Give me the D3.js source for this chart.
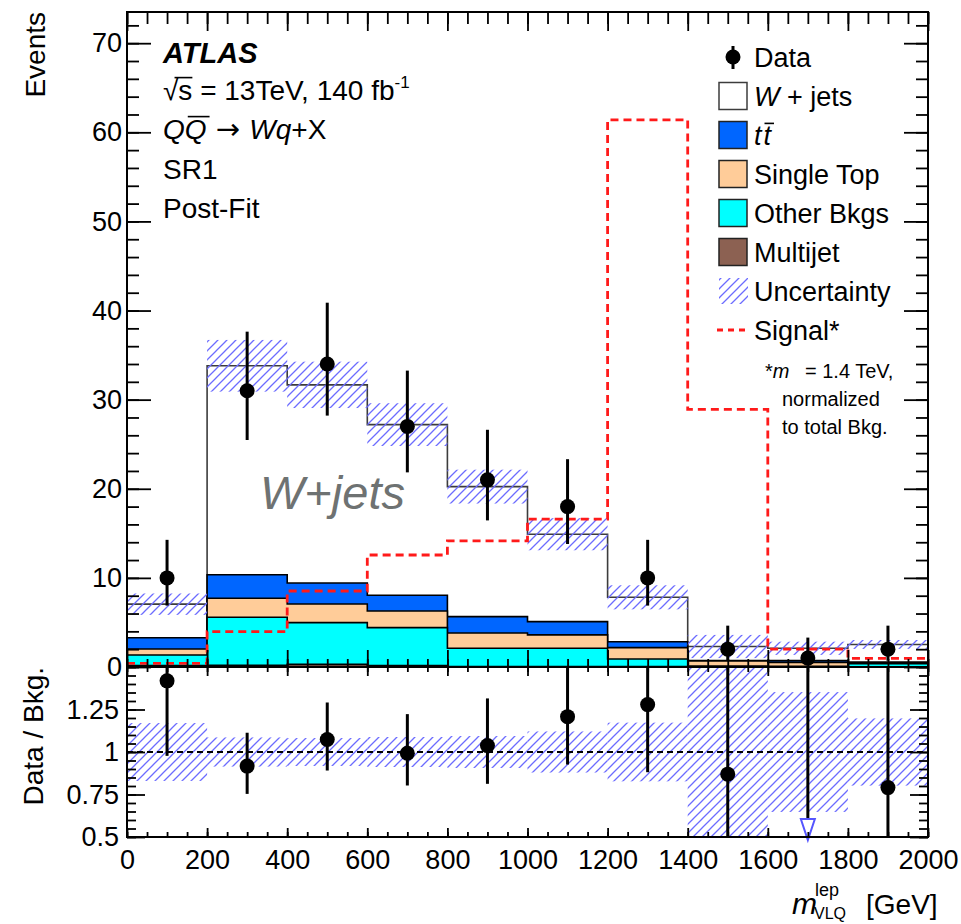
<!DOCTYPE html>
<html><head><meta charset="utf-8">
<script src="https://cdn.jsdelivr.net/npm/d3@7"></script>
<style>
body{margin:0;background:#fff}
svg{display:block}
text{font-family:"Liberation Sans",Arial,Helvetica,sans-serif}
</style>
</head><body>
<svg id="c" width="961" height="924"></svg>
<script>
// ---------- data ----------
const binLow  = [0,200,400,600,800,1000,1200,1400,1600,1800];
const binHigh = [200,400,600,800,1000,1200,1400,1600,1800,2000];
const binCenter = [100,300,500,700,900,1100,1300,1500,1700,1900];

const wjets     = [3.76,23.44,22.23,19.15,14.59,9.81,4.98,1.58,1.38,1.98];
const ttbar     = [1.27,2.65,2.36,1.76,1.83,1.49,0.67,0.05,0.20,0.15];
const singleTop = [0.67,2.13,2.09,1.87,1.72,1.50,1.27,0.55,0.45,0.03];
const otherBkgs = [1.20,5.38,4.68,4.27,2.05,2.05,0.85,0.10,0.05,0.35];
const multijet  = [0.15,0.20,0.30,0.15,0.05,0.05,0.05,0.02,0.02,0.02];
const bkgUnc    = [1.2,2.9,2.6,2.4,1.9,1.8,1.35,1.3,0.74,0.5];

const dataVals  = [10,31,34,27,21,18,10,2,1,2];
const dataErrUp = [4.27,6.63,6.88,6.26,5.62,5.32,4.27,2.64,2.30,2.64];
const dataErrDn = [3.11,5.53,5.79,5.16,4.55,4.20,3.11,1.29,0.83,1.29];

const signal    = [0.41,3.97,8.53,12.57,14.15,16.6,61.4,28.9,2.0,0.97];

const xTicks = [0,200,400,600,800,1000,1200,1400,1600,1800,2000];
const yTicks = [0,10,20,30,40,50,60,70];
const ratioTicks = [0.5,0.75,1,1.25];

// ---------- layout ----------
const svg = d3.select("#c");
const X0=127, X1=928, YT=12, YM=667, YB=837;
const FONT='"Liberation Sans",Arial,Helvetica,sans-serif';
const x  = d3.scaleLinear().domain([0,2000]).range([X0,X1]);
const y  = d3.scaleLinear().domain([0,73.5]).range([YM,YT]);
const yr = d3.scaleLinear().domain([0.5,1.5]).range([YB,YM]);

const defs = svg.append("defs");
const pat = defs.append("pattern").attr("id","hatch").attr("patternUnits","userSpaceOnUse")
  .attr("width",9).attr("height",9);
pat.append("path").attr("d","M0,9 L9,0 M-2,2 L2,-2 M7,11 L11,7")
  .attr("stroke","#6c6cff").attr("stroke-width",1.3).attr("fill","none");
defs.append("clipPath").attr("id","clipTop").append("rect")
  .attr("x",X0).attr("y",YT).attr("width",X1-X0).attr("height",YM-YT);
defs.append("clipPath").attr("id","clipRat").append("rect")
  .attr("x",X0).attr("y",YM).attr("width",X1-X0).attr("height",YB-YM);

const total = binLow.map((_,i)=>wjets[i]+ttbar[i]+singleTop[i]+otherBkgs[i]+multijet[i]);

function stepPts(vals){
  const p=[]; vals.forEach((v,i)=>{p.push([binLow[i],v]);p.push([binHigh[i],v]);}); return p;
}
const areaGen = d3.area().x(d=>x(d[0])).y0(y(0)).y1(d=>y(d[1]));
const lineGen = d3.line().x(d=>x(d[0])).y(d=>y(d[1]));

// ---------- top panel ----------
const topG = svg.append("g").attr("clip-path","url(#clipTop)");
const comps = [multijet, otherBkgs, singleTop, ttbar, wjets];
const fills = ["#8c6152","#00ffff","#ffcc99","#0066ff","#ffffff"];
const strokes = ["#000","#000","#000","#000","#3c3c3c"];
const cum = [];
comps.forEach((c,k)=>{ cum.push(c.map((v,i)=>v+(k?cum[k-1][i]:0))); });
for(let k=comps.length-1;k>=0;k--){
  topG.append("path").attr("d",areaGen(stepPts(cum[k])))
    .attr("fill",fills[k]).attr("stroke",strokes[k]).attr("stroke-width",1.6);
}
topG.selectAll("rect.unc").data(binLow).join("rect").attr("class","unc")
  .attr("x",(d,i)=>x(binLow[i])).attr("width",(d,i)=>x(binHigh[i])-x(binLow[i]))
  .attr("y",(d,i)=>y(total[i]+bkgUnc[i]))
  .attr("height",(d,i)=>y(Math.max(0,total[i]-bkgUnc[i]))-y(total[i]+bkgUnc[i]))
  .attr("fill","url(#hatch)");
topG.append("path").attr("d",lineGen(stepPts(signal))).attr("fill","none")
  .attr("stroke","#ff1a1a").attr("stroke-width",2.8).attr("stroke-dasharray","8,5");
topG.selectAll("line.err").data(dataVals).join("line")
  .attr("x1",(d,i)=>x(binCenter[i])).attr("x2",(d,i)=>x(binCenter[i]))
  .attr("y1",(d,i)=>y(d+dataErrUp[i])).attr("y2",(d,i)=>y(d-dataErrDn[i]))
  .attr("stroke","#000").attr("stroke-width",3);
topG.selectAll("circle.pt").data(dataVals).join("circle")
  .attr("cx",(d,i)=>x(binCenter[i])).attr("cy",d=>y(d)).attr("r",7.5).attr("fill","#000");

// ---------- ratio panel ----------
const ratG = svg.append("g").attr("clip-path","url(#clipRat)");
ratG.selectAll("rect.unc").data(binLow).join("rect")
  .attr("x",(d,i)=>x(binLow[i])).attr("width",(d,i)=>x(binHigh[i])-x(binLow[i]))
  .attr("y",(d,i)=>yr(1+bkgUnc[i]/total[i]))
  .attr("height",(d,i)=>yr(1-bkgUnc[i]/total[i])-yr(1+bkgUnc[i]/total[i]))
  .attr("fill","url(#hatch)");
ratG.append("line").attr("x1",X0).attr("x2",X1).attr("y1",yr(1)).attr("y2",yr(1))
  .attr("stroke","#000").attr("stroke-width",2).attr("stroke-dasharray","6,4");
dataVals.forEach((d,i)=>{
  const t=total[i], r=d/t, up=(d+dataErrUp[i])/t, dn=(d-dataErrDn[i])/t;
  const cx=x(binCenter[i]);
  if(r>=0.5){
    ratG.append("line").attr("x1",cx).attr("x2",cx).attr("y1",yr(Math.min(up,1.6))).attr("y2",yr(Math.max(dn,0.4)))
      .attr("stroke","#000").attr("stroke-width",3);
    ratG.append("circle").attr("cx",cx).attr("cy",yr(r)).attr("r",7.5).attr("fill","#000");
  } else {
    ratG.append("line").attr("x1",cx).attr("x2",cx).attr("y1",yr(Math.min(up,1.6))).attr("y2",yr(0.5)-18)
      .attr("stroke","#000").attr("stroke-width",3);
    svg.append("path").attr("d",`M${cx-7},${yr(0.5)-18} L${cx+7},${yr(0.5)-18} L${cx},${yr(0.5)+3} Z`)
      .attr("fill","#fff").attr("stroke","#5555ff").attr("stroke-width",2);
  }
});

// ---------- axes ----------
function styleAxis(g, fs){
  g.select(".domain").remove();
  g.selectAll(".tick line").attr("stroke","#000").attr("stroke-width",1.8);
  g.selectAll("text").attr("font-family",FONT).attr("font-size",fs).attr("fill","#000");
}
const minorX = d3.range(0,2001,50);
svg.append("g").attr("transform",`translate(${X0},0)`)
  .call(d3.axisLeft(y).tickValues(yTicks).tickSize(-24).tickPadding(5).tickFormat(d3.format("d")))
  .call(g=>styleAxis(g,27));
svg.append("g").attr("transform",`translate(${X0},0)`)
  .call(d3.axisLeft(y).tickValues(d3.range(0,73.5,2)).tickSize(-12).tickFormat(""))
  .call(g=>styleAxis(g,27));
svg.append("g").attr("transform",`translate(${X1},0)`)
  .call(d3.axisRight(y).tickValues(yTicks).tickSize(-24).tickFormat(""))
  .call(g=>styleAxis(g,27));
svg.append("g").attr("transform",`translate(${X1},0)`)
  .call(d3.axisRight(y).tickValues(d3.range(0,73.5,2)).tickSize(-12).tickFormat(""))
  .call(g=>styleAxis(g,27));
svg.append("g").attr("transform",`translate(0,${YT})`)
  .call(d3.axisTop(x).tickValues(xTicks).tickSize(-19).tickFormat(""))
  .call(g=>styleAxis(g,27));
svg.append("g").attr("transform",`translate(0,${YT})`)
  .call(d3.axisTop(x).tickValues(minorX).tickSize(-12).tickFormat(""))
  .call(g=>styleAxis(g,27));
svg.append("g").attr("transform",`translate(0,${YM})`)
  .call(d3.axisBottom(x).tickValues(xTicks).tickSize(-17).tickFormat(""))
  .call(g=>styleAxis(g,27));
svg.append("g").attr("transform",`translate(0,${YM})`)
  .call(d3.axisBottom(x).tickValues(minorX).tickSize(-8).tickFormat(""))
  .call(g=>styleAxis(g,27));
const minorR = d3.range(0.5,1.501,0.05);
svg.append("g").attr("transform",`translate(${X0},0)`)
  .call(d3.axisLeft(yr).tickValues(ratioTicks).tickSize(-18).tickPadding(8).tickFormat(d=>String(d)))
  .call(g=>styleAxis(g,27));
svg.append("g").attr("transform",`translate(${X0},0)`)
  .call(d3.axisLeft(yr).tickValues(minorR).tickSize(-9).tickFormat(""))
  .call(g=>styleAxis(g,27));
svg.append("g").attr("transform",`translate(${X1},0)`)
  .call(d3.axisRight(yr).tickValues(ratioTicks).tickSize(-18).tickFormat(""))
  .call(g=>styleAxis(g,27));
svg.append("g").attr("transform",`translate(${X1},0)`)
  .call(d3.axisRight(yr).tickValues(minorR).tickSize(-9).tickFormat(""))
  .call(g=>styleAxis(g,27));
svg.append("g").attr("transform",`translate(0,${YM})`)
  .call(d3.axisTop(x).tickValues(xTicks).tickSize(-9).tickFormat(""))
  .call(g=>styleAxis(g,27));
svg.append("g").attr("transform",`translate(0,${YM})`)
  .call(d3.axisTop(x).tickValues(minorX).tickSize(-5).tickFormat(""))
  .call(g=>styleAxis(g,27));
svg.append("g").attr("transform",`translate(0,${YB})`)
  .call(d3.axisBottom(x).tickValues(xTicks).tickSize(-9).tickPadding(13).tickFormat(d3.format("d")))
  .call(g=>styleAxis(g,27));
svg.append("g").attr("transform",`translate(0,${YB})`)
  .call(d3.axisBottom(x).tickValues(minorX).tickSize(-5).tickFormat(""))
  .call(g=>styleAxis(g,27));

svg.append("rect").attr("x",X0).attr("y",YT).attr("width",X1-X0).attr("height",YM-YT)
  .attr("fill","none").attr("stroke","#000").attr("stroke-width",2);
svg.append("rect").attr("x",X0).attr("y",YM).attr("width",X1-X0).attr("height",YB-YM)
  .attr("fill","none").attr("stroke","#000").attr("stroke-width",2);

// ---------- texts ----------
function overline(textSel, idx, fs, shift, extendFrom){
  const n = textSel.node();
  const e = n.getExtentOfChar(idx);
  let x1 = e.x + (shift||0), x2 = e.x + e.width + (shift||0);
  if(extendFrom!==undefined){ const e0=n.getExtentOfChar(extendFrom); x1 = e0.x+e0.width*0.75; }
  const base = +textSel.attr("y");
  svg.append("line").attr("x1",x1).attr("x2",x2).attr("y1",base-0.8*fs).attr("y2",base-0.8*fs)
    .attr("stroke","#000").attr("stroke-width",1.6);
}
svg.append("text").attr("x",163).attr("y",63).attr("font-size",29).attr("font-weight","bold")
  .attr("font-style","italic").text("ATLAS");
const t2 = svg.append("text").attr("x",163).attr("y",100).attr("font-size",28);
t2.append("tspan").text("\u221As = 13TeV, 140 fb");
t2.append("tspan").attr("font-size",17).attr("dy",-12).text("-1");
overline(t2,1,28,0,0);
const t3 = svg.append("text").attr("x",163).attr("y",139).attr("font-size",28);
t3.append("tspan").attr("font-style","italic").text("QQ");
t3.append("tspan").attr("font-family","DejaVu Sans").attr("font-size",29).text(" \u2192 ");
t3.append("tspan").attr("font-style","italic").text("Wq");
t3.append("tspan").text("+X");
overline(t3,1,28,3);
svg.append("text").attr("x",163).attr("y",179).attr("font-size",28).text("SR1");
svg.append("text").attr("x",163).attr("y",218).attr("font-size",28).text("Post-Fit");

svg.append("text").attr("x",260).attr("y",509).attr("font-size",47).attr("font-style","italic")
  .attr("fill","#6e7272").text("W+jets");

svg.append("text").attr("transform","translate(45,12) rotate(-90)").attr("text-anchor","end")
  .attr("font-size",28).text("Events");
svg.append("text").attr("transform","translate(43,667) rotate(-90)").attr("text-anchor","end")
  .attr("font-size",28).text("Data / Bkg.");
svg.append("text").attr("x",792).attr("y",914).attr("font-size",30).attr("font-style","italic").text("m");
svg.append("text").attr("x",815).attr("y",896).attr("font-size",18).text("lep");
svg.append("text").attr("x",814).attr("y",919).attr("font-size",16).text("VLQ");
svg.append("text").attr("x",866).attr("y",914).attr("font-size",28).text("[GeV]");

// ---------- legend ----------
const legNames = ["Data","W + jets","tt","Single Top","Other Bkgs","Multijet","Uncertainty","Signal*"];
const LY0=57, LS=39, BX=719, TX=754, LFS=27;
legNames.forEach((name,i)=>{
  const cy = LY0 + i*LS;
  if(i===0){
    svg.append("line").attr("x1",733).attr("x2",733).attr("y1",cy-11).attr("y2",cy+12).attr("stroke","#000").attr("stroke-width",3);
    svg.append("circle").attr("cx",733).attr("cy",cy).attr("r",7.5).attr("fill","#000");
  } else if(i<=5){
    const k = 5-i;
    svg.append("rect").attr("x",BX).attr("y",cy-13.5).attr("width",28).attr("height",27)
      .attr("fill",fills[k]).attr("stroke",i===1?"#3c3c3c":"#222").attr("stroke-width",1.5);
  } else if(i===6){
    svg.append("rect").attr("x",BX).attr("y",cy-13).attr("width",29).attr("height",26).attr("fill","url(#hatch)");
  } else {
    svg.append("line").attr("x1",717).attr("x2",745).attr("y1",cy).attr("y2",cy)
      .attr("stroke","#ff1a1a").attr("stroke-width",2.8).attr("stroke-dasharray","6,5");
  }
  const t = svg.append("text").attr("x",TX).attr("y",cy+10).attr("font-size",LFS);
  if(i===1){ t.append("tspan").attr("font-style","italic").text("W"); t.append("tspan").text(" + jets"); }
  else if(i===2){ t.append("tspan").attr("font-style","italic").attr("letter-spacing",2).text("tt"); overline(t,1,LFS,1); }
  else t.text(name);
});
const n1 = svg.append("text").attr("x",765).attr("y",378).attr("font-size",20);
n1.append("tspan").text("*");
n1.append("tspan").attr("font-style","italic").text("m");
n1.append("tspan").attr("x",805).text("= 1.4 TeV,");
svg.append("text").attr("x",782).attr("y",406).attr("font-size",20).text("normalized");
svg.append("text").attr("x",782).attr("y",434).attr("font-size",20).text("to total Bkg.");
</script>
</body></html>
